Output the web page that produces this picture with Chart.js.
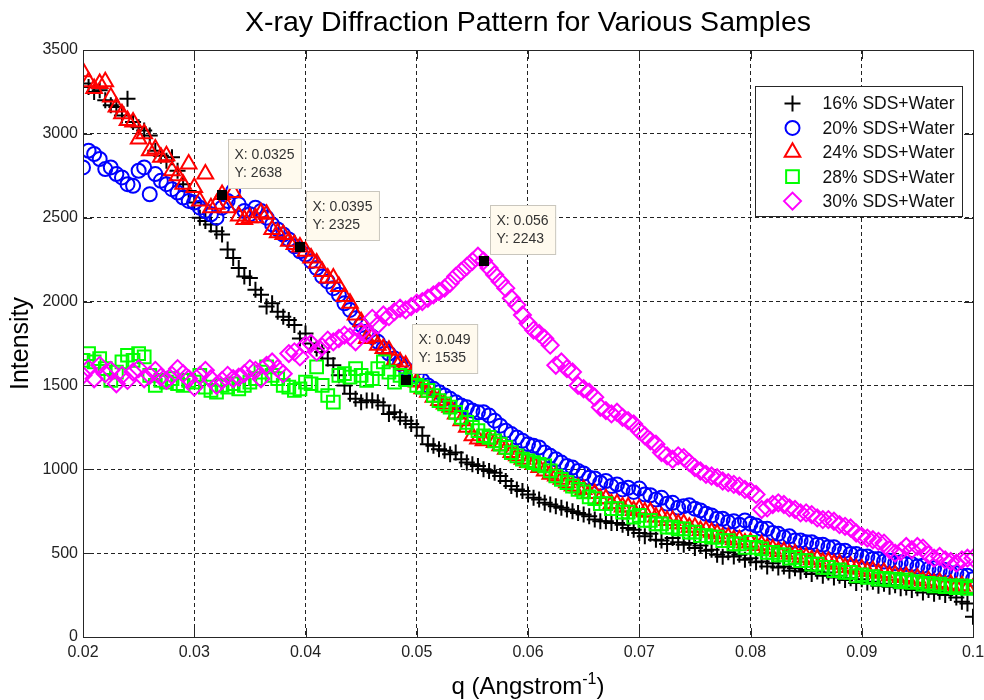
<!DOCTYPE html>
<html>
<head>
<meta charset="utf-8">
<title>X-ray Diffraction Pattern for Various Samples</title>
<script src="https://cdn.jsdelivr.net/npm/chart.js@4.4.1/dist/chart.umd.min.js"></script>
<style>
  html, body { margin: 0; padding: 0; background: #fff; }
  #wrap { width: 984px; height: 700px; }
</style>
</head>
<body>
<div id="wrap"><canvas id="xrdChart" width="984" height="700"></canvas></div>
<script>
const FONT = "'Liberation Sans', Arial, Helvetica, sans-serif";

// q (1/Angstrom) - same grid for every sample
const q = [
  0.0200, 0.0205, 0.0210, 0.0215, 0.0220, 0.0225, 0.0230, 0.0235, 0.0240, 0.0245,
  0.0250, 0.0255, 0.0260, 0.0265, 0.0270, 0.0275, 0.0280, 0.0285, 0.0290, 0.0295,
  0.0300, 0.0305, 0.0310, 0.0315, 0.0320, 0.0325, 0.0330, 0.0335, 0.0340, 0.0345,
  0.0350, 0.0355, 0.0360, 0.0365, 0.0370, 0.0375, 0.0380, 0.0385, 0.0390, 0.0395,
  0.0400, 0.0405, 0.0410, 0.0415, 0.0420, 0.0425, 0.0430, 0.0435, 0.0440, 0.0445,
  0.0450, 0.0455, 0.0460, 0.0465, 0.0470, 0.0475, 0.0480, 0.0485, 0.0490, 0.0495,
  0.0500, 0.0505, 0.0510, 0.0515, 0.0520, 0.0525, 0.0530, 0.0535, 0.0540, 0.0545,
  0.0550, 0.0555, 0.0560, 0.0565, 0.0570, 0.0575, 0.0580, 0.0585, 0.0590, 0.0595,
  0.0600, 0.0605, 0.0610, 0.0615, 0.0620, 0.0625, 0.0630, 0.0635, 0.0640, 0.0645,
  0.0650, 0.0655, 0.0660, 0.0665, 0.0670, 0.0675, 0.0680, 0.0685, 0.0690, 0.0695,
  0.0700, 0.0705, 0.0710, 0.0715, 0.0720, 0.0725, 0.0730, 0.0735, 0.0740, 0.0745,
  0.0750, 0.0755, 0.0760, 0.0765, 0.0770, 0.0775, 0.0780, 0.0785, 0.0790, 0.0795,
  0.0800, 0.0805, 0.0810, 0.0815, 0.0820, 0.0825, 0.0830, 0.0835, 0.0840, 0.0845,
  0.0850, 0.0855, 0.0860, 0.0865, 0.0870, 0.0875, 0.0880, 0.0885, 0.0890, 0.0895,
  0.0900, 0.0905, 0.0910, 0.0915, 0.0920, 0.0925, 0.0930, 0.0935, 0.0940, 0.0945,
  0.0950, 0.0955, 0.0960, 0.0965, 0.0970, 0.0975, 0.0980, 0.0985, 0.0990, 0.0995,
  0.1000
];

const sds16 = [
  3300, 3280, 3250, 3260, 3200, 3170, 3160, 3110, 3210, 3070,
  3040, 3020, 2990, 2900, 2870, 2840, 2860, 2780, 2700, 2660,
  2590, 2500, 2480, 2460, 2420, 2400, 2310, 2260, 2200, 2150,
  2140, 2070, 2040, 1970, 1990, 1940, 1910, 1890, 1860, 1780,
  1810, 1750, 1720, 1700, 1660, 1620, 1560, 1500, 1450, 1420,
  1400, 1410, 1410, 1400, 1380, 1330, 1340, 1310, 1290, 1270,
  1250, 1200, 1150, 1140, 1120, 1110, 1090, 1100, 1060, 1040,
  1030, 1020, 1000, 990, 980, 960, 930, 900, 880, 870,
  850, 830, 820, 800, 790, 780, 770, 760, 750, 740,
  730, 720, 700, 690, 690, 680, 680, 670, 650, 640,
  620, 600, 615, 580, 575, 555, 590, 565, 550, 560,
  530, 545, 515, 520, 490, 478, 505, 480, 490, 460,
  470, 445, 450, 420, 440, 415, 420, 395, 410, 390,
  400, 375, 390, 365, 385, 355, 365, 340, 350, 322,
  345, 325, 330, 305, 318, 300, 308, 290, 295, 280,
  290, 265, 280, 258, 270, 250, 262, 235, 210, 200,
  120
];

const sds20 = [
  2800, 2900, 2880, 2850, 2790, 2800, 2760, 2740, 2700, 2690,
  2780, 2800, 2640, 2760, 2720, 2700, 2670, 2650, 2620, 2600,
  2590, 2560, 2540, 2520, 2500, 2560, 2600, 2660, 2580, 2540,
  2520, 2560, 2540, 2500, 2460, 2430, 2400, 2370, 2330, 2300,
  2280, 2240, 2200, 2150, 2120, 2080, 2040, 1990, 1950, 1900,
  1860, 1820, 1790, 1760, 1720, 1690, 1660, 1630, 1600, 1580,
  1560, 1530, 1500, 1480, 1460, 1440, 1420, 1400, 1380, 1370,
  1350, 1340, 1340, 1320, 1290, 1260, 1230, 1210, 1190, 1170,
  1150, 1140, 1130, 1100, 1080, 1060, 1040, 1020, 1010, 990,
  975, 950, 945, 920, 930, 900, 910, 880, 890, 865,
  885, 850, 845, 820, 830, 795, 800, 770, 780, 785,
  765, 755, 735, 725, 705, 705, 685, 690, 670, 695,
  675, 665, 645, 645, 620, 615, 595, 600, 575, 575,
  565, 565, 550, 550, 535, 535, 515, 515, 495, 495,
  480, 480, 465, 465, 450, 455, 440, 445, 435, 435,
  420, 425, 405, 410, 395, 400, 380, 380, 365, 365,
  345
];

const sds24 = [
  3370, 3310, 3270, 3300, 3310, 3220, 3160, 3120, 3080, 3070,
  2970, 3000, 2900, 2910, 2860, 2870, 2780, 2750, 2700, 2820,
  2680, 2600, 2760, 2560, 2580, 2638, 2560, 2650, 2510, 2490,
  2500, 2500, 2530, 2520, 2430, 2410, 2400, 2360, 2340, 2325,
  2300, 2260, 2230, 2180, 2140, 2140, 2090, 2030, 1990, 1920,
  1880, 1780, 1790, 1740, 1720, 1710, 1650, 1640, 1620, 1560,
  1520, 1480, 1460, 1430, 1410, 1390, 1370, 1330, 1290, 1250,
  1200, 1180, 1170, 1180, 1160, 1140, 1120, 1100, 1080, 1060,
  1040, 1030, 1010, 990, 970, 960, 940, 920, 900, 890,
  880, 855, 855, 825, 825, 795, 795, 775, 775, 755,
  765, 745, 745, 715, 715, 695, 695, 675, 675, 655,
  655, 635, 635, 625, 615, 595, 595, 580, 580, 560,
  565, 545, 550, 530, 525, 510, 510, 495, 495, 475,
  475, 460, 465, 445, 450, 435, 435, 415, 420, 405,
  405, 390, 395, 380, 385, 365, 370, 355, 360, 345,
  350, 335, 335, 320, 325, 310, 315, 300, 305, 290,
  290
];

const sds28 = [
  1650, 1690, 1640, 1660, 1600, 1530, 1580, 1640, 1680, 1650,
  1690, 1670, 1560, 1500, 1530, 1520, 1540, 1510, 1500, 1530,
  1520, 1560, 1490, 1470, 1460, 1500, 1490, 1510, 1480, 1500,
  1520, 1540, 1580, 1610, 1560, 1540, 1500, 1490, 1470, 1480,
  1520, 1510, 1610, 1500, 1440, 1400, 1560, 1570, 1550, 1600,
  1560, 1530, 1540, 1600, 1640, 1580, 1520, 1560, 1535, 1550,
  1500, 1490, 1470, 1440, 1410, 1390, 1370, 1340, 1310, 1280,
  1250, 1230, 1200, 1190, 1170, 1150, 1130, 1100, 1080, 1060,
  1050, 1040, 1030, 1020, 990, 960, 940, 920, 900, 880,
  865, 835, 825, 795, 795, 765, 765, 745, 745, 715,
  725, 695, 695, 675, 675, 655, 655, 645, 645, 625,
  625, 605, 605, 595, 595, 575, 575, 555, 555, 535,
  565, 535, 525, 505, 505, 490, 490, 470, 475, 455,
  455, 435, 435, 415, 415, 395, 400, 385, 385, 365,
  370, 355, 360, 345, 350, 340, 345, 330, 340, 325,
  330, 315, 320, 305, 315, 300, 305, 295, 305, 290,
  300
];

const sds30 = [
  1560, 1600, 1540, 1620, 1570, 1590, 1510, 1560, 1530, 1580,
  1600, 1540, 1560, 1590, 1550, 1530, 1560, 1600, 1570, 1540,
  1490, 1560, 1590, 1540, 1500, 1530, 1560, 1540, 1550, 1570,
  1600, 1590, 1540, 1620, 1640, 1600, 1570, 1690, 1700, 1670,
  1740, 1750, 1700, 1730, 1770, 1760, 1780, 1800, 1790, 1760,
  1820, 1810, 1900, 1860, 1920, 1910, 1940, 1960, 1950, 1970,
  1990, 2000, 2020, 2040, 2060, 2080, 2110, 2150, 2180, 2210,
  2240, 2270, 2243, 2200, 2160, 2120, 2080, 2020, 1980, 1920,
  1870, 1830, 1810, 1780, 1740, 1620, 1640, 1600, 1580, 1500,
  1480, 1460, 1430, 1370, 1350, 1330, 1340, 1310, 1290, 1270,
  1230, 1200, 1170, 1150, 1100, 1080, 1060, 1080, 1070, 1040,
  1010, 990, 970, 960, 950, 930, 920, 910, 900, 880,
  870, 850, 760, 770, 790, 800, 790, 770, 760, 740,
  740, 730, 710, 700, 700, 690, 670, 660, 650, 620,
  600, 590, 580, 570, 560, 520, 500, 510, 540, 520,
  540, 530, 490, 470, 480, 460, 450, 440, 460, 470,
  470
];

const seriesNames = ['16% SDS+Water', '20% SDS+Water', '24% SDS+Water', '28% SDS+Water', '30% SDS+Water'];
const seriesColors = ['#000000', '#0000ff', '#ff0000', '#00ff00', '#ff00ff'];
const seriesMarkers = ['cross', 'circle', 'triangle', 'rect', 'rectRot'];
const markerSizes = [8, 7, 9, 9, 8.5];

const xTicks = [0.02, 0.03, 0.04, 0.05, 0.06, 0.07, 0.08, 0.09, 0.1];
const yTicks = [0, 500, 1000, 1500, 2000, 2500, 3000, 3500];

// data cursors left on the figure
const tipX = [0.0325, 0.0395, 0.049, 0.056];
const tipY = [2638, 2325, 1535, 2243];

const allSeries = [sds16, sds20, sds24, sds28, sds30];
const LW = 2;

const datasets = allSeries.map((vals, i) => ({
  label: seriesNames[i],
  data: vals.map((v, k) => ({ x: q[k], y: v })),
  showLine: false,
  pointStyle: seriesMarkers[i],
  pointRadius: markerSizes[i],
  pointHoverRadius: markerSizes[i],
  pointBorderWidth: LW,
  pointHoverBorderWidth: LW,
  borderColor: seriesColors[i],
  backgroundColor: 'rgba(0,0,0,0)',
  order: allSeries.length - i // later series drawn on top, like MATLAB
}));

function drawMarker(ctx, style, r, x, y, color) {
  ctx.save();
  ctx.strokeStyle = color;
  ctx.lineWidth = LW;
  if (Chart.helpers && Chart.helpers.drawPoint) {
    ctx.fillStyle = 'rgba(0,0,0,0)';
    Chart.helpers.drawPoint(ctx, { pointStyle: style, radius: r, rotation: 0, borderWidth: LW }, x, y);
  }
  ctx.restore();
}

const matlabLook = {
  id: 'matlabLook',
  beforeDraw(chart) {
    const ctx = chart.ctx;
    ctx.save();
    ctx.fillStyle = '#ffffff';
    ctx.fillRect(0, 0, chart.width, chart.height);
    ctx.restore();
  },
  afterDatasetsDraw(chart) {
    const { ctx, chartArea: a, scales: { x, y } } = chart;
    ctx.save();

    // axes box
    ctx.strokeStyle = '#262626';
    ctx.lineWidth = 1;
    ctx.strokeRect(a.left + 0.5, a.top + 0.5, a.right - a.left, a.bottom - a.top);

    // inward ticks on all sides
    const tl = 9;
    ctx.beginPath();
    xTicks.forEach(t => {
      const px = Math.round(x.getPixelForValue(t)) + 0.5;
      ctx.moveTo(px, a.bottom); ctx.lineTo(px, a.bottom - tl);
      ctx.moveTo(px, a.top); ctx.lineTo(px, a.top + tl);
    });
    yTicks.forEach(t => {
      const py = Math.round(y.getPixelForValue(t)) + 0.5;
      ctx.moveTo(a.left, py); ctx.lineTo(a.left + tl, py);
      ctx.moveTo(a.right, py); ctx.lineTo(a.right - tl, py);
    });
    ctx.stroke();

    // data tips
    ctx.font = '14px ' + FONT;
    tipX.forEach((tx, i) => {
      const px = x.getPixelForValue(tx);
      const py = y.getPixelForValue(tipY[i]);
      const l1 = 'X: ' + tx;
      const l2 = 'Y: ' + tipY[i];
      const w = Math.max(ctx.measureText(l1).width, ctx.measureText(l2).width) + 13;
      const h = 49;
      const bx = Math.round(px + 6) + 0.5;
      const by = Math.round(py - 7 - h) + 0.5;
      ctx.fillStyle = '#fffaee';
      ctx.fillRect(bx, by, w, h);
      ctx.strokeStyle = '#c9c6bd';
      ctx.lineWidth = 1;
      ctx.strokeRect(bx, by, w, h);
      ctx.fillStyle = '#333333';
      ctx.textBaseline = 'middle';
      ctx.textAlign = 'left';
      ctx.fillText(l1, bx + 6, by + 16);
      ctx.fillText(l2, bx + 6, by + 34);
      ctx.fillStyle = '#000000';
      ctx.fillRect(Math.round(px) - 5, Math.round(py) - 5, 10, 10);
    });

    // legend
    const lw = 207, lh = 130;
    const lx = Math.round(a.right - 11 - lw) + 0.5;
    const ly = Math.round(a.top + 36) + 0.5;
    ctx.fillStyle = '#ffffff';
    ctx.fillRect(lx, ly, lw, lh);
    ctx.strokeStyle = '#262626';
    ctx.lineWidth = 1;
    ctx.strokeRect(lx, ly, lw, lh);
    ctx.font = '17.5px ' + FONT;
    ctx.textBaseline = 'middle';
    seriesNames.forEach((name, i) => {
      const ry = ly + 17 + i * 24.4;
      drawMarker(ctx, seriesMarkers[i], markerSizes[i], lx + 37, ry, seriesColors[i]);
      ctx.fillStyle = '#111111';
      ctx.fillText(name, lx + 67, ry + 1);
    });
    ctx.restore();
  },
  afterDraw(chart) {
    const { ctx, chartArea: a } = chart;
    const cx = (a.left + a.right) / 2;
    ctx.save();
    ctx.fillStyle = '#000000';
    ctx.textAlign = 'center';
    ctx.textBaseline = 'middle';
    ctx.font = '28.5px ' + FONT;
    ctx.fillText('X-ray Diffraction Pattern for Various Samples', cx, 23);

    // y title
    ctx.font = '25px ' + FONT;
    ctx.save();
    ctx.translate(21, (a.top + a.bottom) / 2);
    ctx.rotate(-Math.PI / 2);
    ctx.fillText('Intensity', 0, 0);
    ctx.restore();

    // x title with superscript
    const main = 'q (Angstrom';
    const sup = '-1';
    const close = ')';
    ctx.font = '24px ' + FONT;
    const w1 = ctx.measureText(main).width;
    const w3 = ctx.measureText(close).width;
    ctx.font = '16px ' + FONT;
    const w2 = ctx.measureText(sup).width;
    const start = cx - (w1 + w2 + w3) / 2;
    const base = 694;
    ctx.textAlign = 'left';
    ctx.textBaseline = 'alphabetic';
    ctx.font = '24px ' + FONT;
    ctx.fillText(main, start, base);
    ctx.font = '16px ' + FONT;
    ctx.fillText(sup, start + w1, base - 10);
    ctx.font = '24px ' + FONT;
    ctx.fillText(close, start + w1 + w2, base);
    ctx.restore();
  }
};

new Chart(document.getElementById('xrdChart').getContext('2d'), {
  type: 'scatter',
  data: { datasets },
  options: {
    responsive: false,
    animation: false,
    events: [],
    layout: { padding: { top: 50, right: 11, left: 0, bottom: 0 } },
    plugins: {
      legend: { display: false },
      tooltip: { enabled: false },
      title: { display: false }
    },
    scales: {
      x: {
        type: 'linear',
        min: 0.02,
        max: 0.1,
        afterBuildTicks: s => { s.ticks = xTicks.map(v => ({ value: v })); },
        afterFit: s => { s.height = 63; s.paddingLeft = 0; s.paddingRight = 0; },
        grid: { color: '#222222', lineWidth: 1, drawTicks: false },
        border: { display: false, dash: [4, 3] },
        ticks: {
          padding: 6,
          color: '#222222',
          font: { family: FONT, size: 16 },
          maxRotation: 0,
          autoSkip: false,
          callback: v => String(+v.toFixed(2))
        }
      },
      y: {
        type: 'linear',
        min: 0,
        max: 3500,
        afterBuildTicks: s => { s.ticks = yTicks.map(v => ({ value: v })); },
        afterFit: s => { s.width = 83; s.paddingTop = 0; s.paddingBottom = 0; },
        grid: { color: '#222222', lineWidth: 1, drawTicks: false },
        border: { display: false, dash: [4, 3] },
        ticks: {
          padding: 5,
          color: '#222222',
          font: { family: FONT, size: 16 },
          autoSkip: false,
          callback: v => String(v)
        }
      }
    }
  },
  plugins: [matlabLook]
});
</script>
</body>
</html>
